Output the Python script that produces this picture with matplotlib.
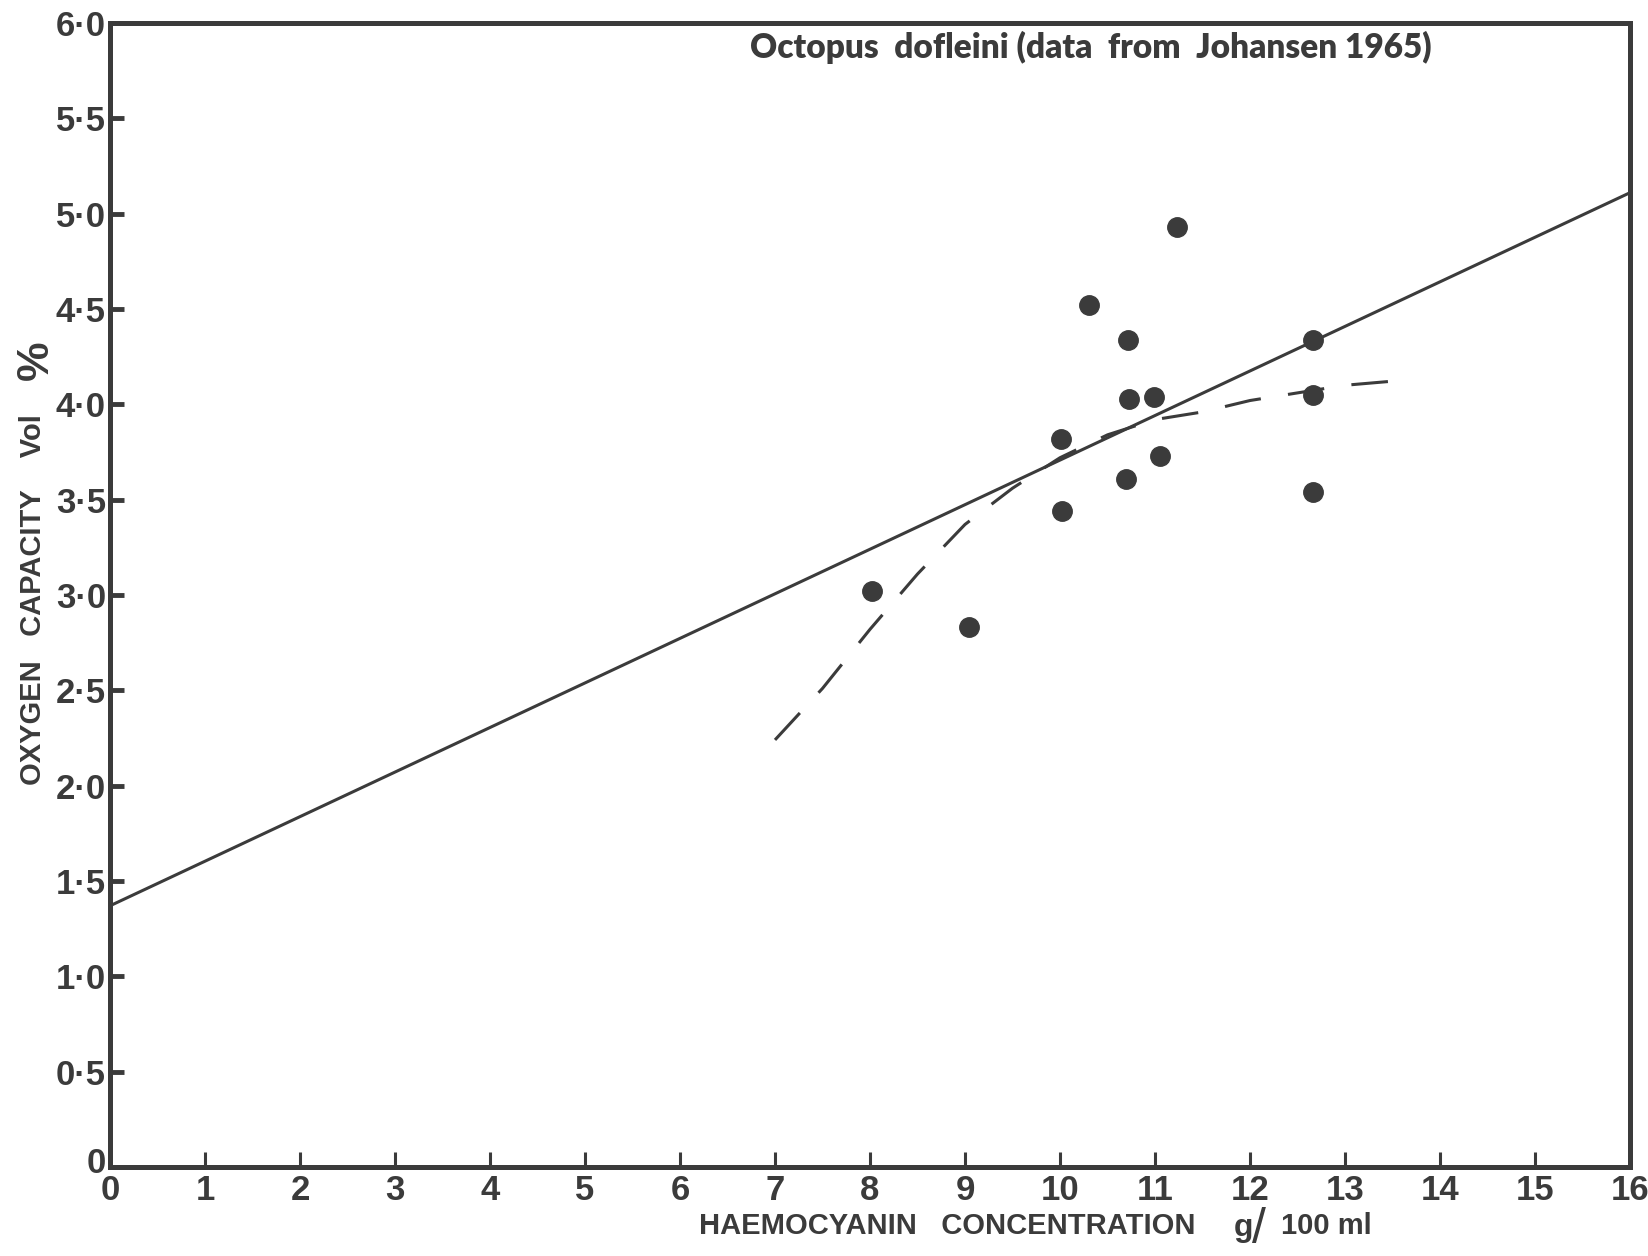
"""Octopus dofleini: oxygen capacity vs haemocyanin concentration."""

import matplotlib
matplotlib.use("Agg")
import matplotlib.pyplot as plt
from matplotlib.transforms import offset_copy

# measured points (g/100 ml, vol %)
haemo = [8.02, 9.04, 10.01, 10.02, 10.31, 10.72, 10.73, 10.70, 10.99, 11.05,
         11.23, 12.66, 12.66, 12.66]
oxygen = [3.02, 2.83, 3.82, 3.44, 4.52, 4.34, 4.03, 3.61, 4.04, 3.73,
          4.93, 4.34, 4.05, 3.54]

# straight regression line
fit_x = [0, 16]
fit_y = [1.37, 5.11]

# dashed curve
curve_x = [7.0, 7.5, 8.0, 8.5, 9.0, 9.5, 10.0, 10.5, 11.0, 11.5, 12.0,
           12.5, 13.0, 13.7]
curve_y = [2.24, 2.51, 2.82, 3.11, 3.37, 3.56, 3.72, 3.84, 3.92, 3.96, 4.02,
           4.06, 4.10, 4.13]

x_ticks = list(range(0, 17))
y_ticks = [0, 0.5, 1.0, 1.5, 2.0, 2.5, 3.0, 3.5, 4.0, 4.5, 5.0, 5.5, 6.0]
y_labels = ["0", "0·5", "1·0", "1·5", "2·0", "2·5", "3·0", "3·5", "4·0",
            "4·5", "5·0", "5·5", "6·0"]

INK = "#3b3b3b"
W, H = 1649, 1256
SANS = ["Liberation Sans", "DejaVu Sans"]

fig = plt.figure(figsize=(W / 100, H / 100), dpi=100)
ax = fig.add_axes([110 / W, 1 - 1167 / H, 1520 / W, 1144 / H])

ax.plot(fit_x, fit_y, color=INK, lw=2.2, solid_capstyle="butt")
ax.plot(curve_x, curve_y, color=INK, lw=2.2, dashes=(12, 9))
ax.plot(haemo, oxygen, "o", color=INK, ms=14, mec=INK)

ax.set_xlim(0, 16)
ax.set_ylim(0, 6)
ax.set_xticks(x_ticks)
ax.set_yticks(y_ticks)
ax.set_yticklabels(y_labels)
for s in ax.spines.values():
    s.set_linewidth(3.6)
    s.set_color(INK)
ax.tick_params(axis="y", direction="in", length=10, width=3.5, color=INK,
               pad=3, labelsize=25, labelcolor=INK)
ax.tick_params(axis="x", direction="in", length=11, width=2.2, color=INK,
               pad=5, labelsize=25, labelcolor=INK)
for lab in ax.get_xticklabels() + ax.get_yticklabels():
    lab.set_family(SANS)
    lab.set_fontweight("bold")

# lift the y "0" a touch so it clears the x "0"
zero = ax.yaxis.get_major_ticks()[0].label1
zero.set_transform(offset_copy(zero.get_transform(), fig=fig, y=7,
                               units="dots"))

ax.text(10.32, 5.87, "Octopus  dofleini (data  from  Johansen 1965)",
        ha="center", va="center", fontsize=24, fontweight="heavy",
        color=INK, family=["Lato", "DejaVu Sans"])

fig.text(33 / W, 1 - 600 / H, "OXYGEN   CAPACITY    Vol", rotation=90,
         ha="center", va="center", fontsize=21, fontweight="bold",
         color=INK, family=SANS)
fig.text(36 / W, 1 - 360 / H, "%", rotation=90, ha="center", va="center",
         fontsize=32, fontweight="bold", color=INK, family=SANS)

fig.text(947 / W, 1 - 1226 / H, "HAEMOCYANIN   CONCENTRATION",
         ha="center", va="center", fontsize=21, fontweight="bold",
         color=INK, family=SANS)
fig.text(1244 / W, 1 - 1228 / H, "g", ha="center", va="center",
         fontsize=23, fontweight="bold", color=INK, family=SANS)
fig.text(1259 / W, 1 - 1230 / H, "/", ha="center", va="center",
         fontsize=36, color=INK, family=SANS)
fig.text(1326 / W, 1 - 1226 / H, "100 ml", ha="center", va="center",
         fontsize=21, fontweight="bold", color=INK, family=SANS)

fig.savefig("out.png", dpi=100, facecolor="white")
